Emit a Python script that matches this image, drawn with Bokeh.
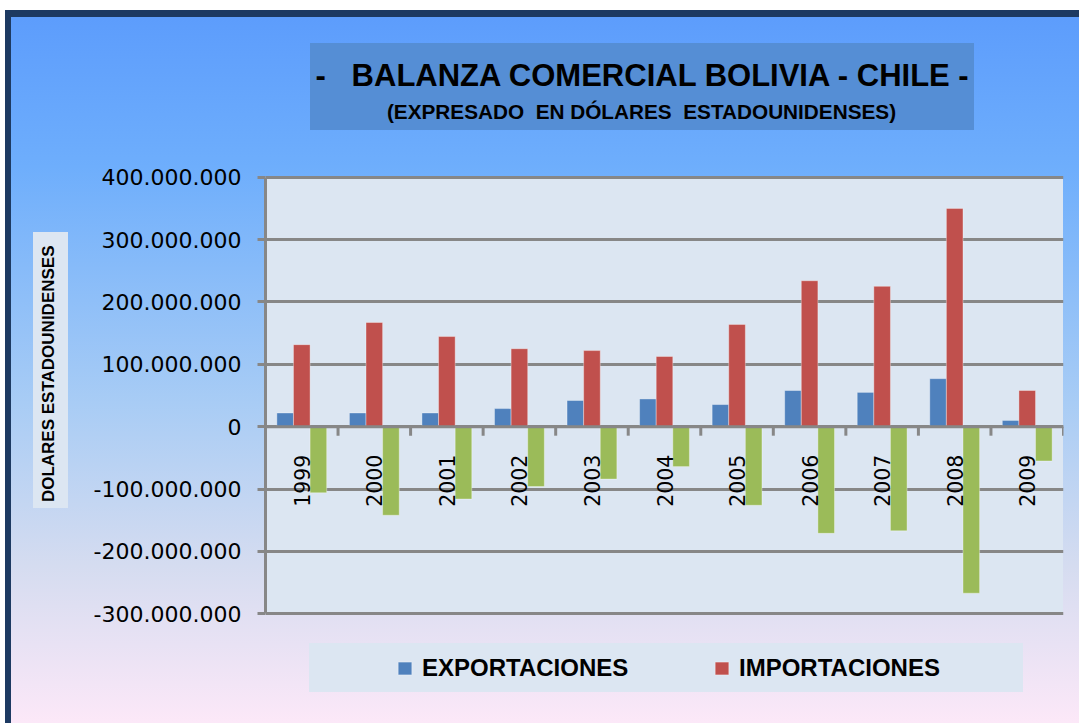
from math import pi
from bokeh.plotting import figure
from bokeh.models import (ColumnDataSource, FactorRange, FixedTicker, Span, Label,
                          Legend, LegendItem, LinearAxis)
from bokeh.transform import dodge
from bokeh.core.properties import value
from bokeh.embed import file_html
from bokeh.resources import INLINE

# ---------------- data ----------------
years = ["1999", "2000", "2001", "2002", "2003", "2004", "2005", "2006", "2007", "2008", "2009"]
exportaciones = [22e6, 22e6, 22e6, 29e6, 42e6, 44.5e6, 35.5e6, 58e6, 55e6, 77e6, 10e6]
importaciones = [131.5e6, 167e6, 144.5e6, 125e6, 122e6, 112.5e6, 164e6, 234e6, 225e6, 350e6, 58e6]
balanza = [-106e6, -142e6, -116e6, -96e6, -84e6, -64e6, -126e6, -171e6, -167e6, -267e6, -55e6]

y_ticks = [-300e6, -200e6, -100e6, 0, 100e6, 200e6, 300e6, 400e6]
y_tick_labels = ["-300.000.000", "-200.000.000", "-100.000.000", "0",
                 "100.000.000", "200.000.000", "300.000.000", "400.000.000"]

NB = "\u00a0"
title_text = "-" + NB * 2 + " BALANZA COMERCIAL BOLIVIA - CHILE -"
subtitle_text = "(EXPRESADO" + NB + " EN DÓLARES" + NB + " ESTADOUNIDENSES)"
y_title_text = "DOLARES ESTADOUNIDENSES"
legend_labels = ["EXPORTACIONES", "IMPORTACIONES"]

# ---------------- colours ----------------
C_EXP = "#4f81bd"
C_IMP = "#c0504d"
C_BAL = "#9bbb59"
C_GRID = "#878787"
C_PLOT = "#dce6f2"
C_TITLEBOX = "#558ed5"
C_FRAME = "#1d3a62"

# ---------------- layout (page pixels) ----------------
W, H = 1079, 723
FRAME_L, FRAME_R = 265, 1063
Y_TOP_PX, Y_BOT_PX = 176.7, 613.3          # where the top / bottom tick values sit
px_per_unit = (Y_BOT_PX - Y_TOP_PX) / (y_ticks[-1] - y_ticks[0])
y_end = y_ticks[-1] + Y_TOP_PX / px_per_unit
y_start = y_ticks[0] - (H - Y_BOT_PX) / px_per_unit

def box(l, t, r, b, c):
    return f"linear-gradient({c},{c}) {l}px {t}px / {r - l}px {b - t}px no-repeat"

bg_layers = [
    box(265, 177, 1063, 614, C_PLOT),           # plot area
    box(310, 43, 974, 130, C_TITLEBOX),         # title box
    box(33, 232, 68, 508, C_PLOT),              # y title box
    box(309, 643, 1023, 692, C_PLOT),           # legend box
    box(5, 10, 1079, 17, C_FRAME),              # outer frame top
    box(5, 10, 11, 723, C_FRAME),               # outer frame left
    "linear-gradient(180deg, #5c9cfc 0%, #6eaefc 22%, #a8ccf5 55%, #d5dcf0 78%, #fce8f8 100%) "
    "5px 10px / 1074px 713px no-repeat",
]

src = ColumnDataSource(dict(years=years, exp=exportaciones, imp=importaciones, bal=balanza))

p = figure(width=W, height=H, output_backend="svg", toolbar_location=None, title=None,
           x_range=FactorRange(factors=years), y_range=(y_start, y_end),
           x_axis_location=None,
           min_border_left=FRAME_L, min_border_right=W - FRAME_R, min_border_top=0,
           min_border_bottom=0)
p.styles = {"background": ", ".join(bg_layers) + " white"}
p.border_fill_alpha = 0
p.background_fill_alpha = 0
p.outline_line_color = None

# grid / axes
p.xgrid.visible = False
p.ygrid.ticker = FixedTicker(ticks=y_ticks)
p.ygrid.grid_line_color = C_GRID
p.ygrid.grid_line_width = 3
yax = p.yaxis[0]
yax.ticker = FixedTicker(ticks=y_ticks)
yax.bounds = (y_ticks[0], y_ticks[-1])
yax.major_label_overrides = {t: l for t, l in zip(y_ticks, y_tick_labels)}
yax.axis_line_color = C_GRID
yax.axis_line_width = 3
yax.major_tick_line_color = C_GRID
yax.major_tick_line_width = 3
yax.major_tick_out = 8
yax.major_tick_in = 0
yax.minor_tick_line_color = None
yax.major_label_standoff = 16
yax.major_label_text_font = "DejaVu Sans"
yax.major_label_text_font_size = "22px"
yax.major_label_text_color = "black"

# y title as label of an outer, tickless axis (trailing nbsp nudges it down)
yax2 = LinearAxis(ticker=FixedTicker(ticks=[]),
                  axis_label=y_title_text + NB * 5, axis_line_color=None,
                  major_tick_line_color=None, major_tick_out=0, major_tick_in=0,
                  minor_tick_line_color=None, major_label_text_font_size="0px",
                  major_label_standoff=0, axis_label_standoff=33,
                  axis_label_text_font="Liberation Sans", axis_label_text_font_style="bold",
                  axis_label_text_font_size="17px", axis_label_text_color="black")
p.add_layout(yax2, "left")

# bars
bw = 0.229
r_exp = p.vbar(x=dodge("years", -bw, range=p.x_range), top="exp", bottom=0, width=bw,
               source=src, fill_color=C_EXP, line_color="white", line_alpha=0.35)
r_imp = p.vbar(x=dodge("years", 0, range=p.x_range), top="imp", bottom=0, width=bw,
               source=src, fill_color=C_IMP, line_color="white", line_alpha=0.35)
r_bal = p.vbar(x=dodge("years", bw, range=p.x_range), top=0, bottom="bal", width=bw,
               source=src, fill_color=C_BAL, line_color="white", line_alpha=0.35)

# zero axis line + category boundary ticks
p.add_layout(Span(location=0, dimension="width", line_color=C_GRID, line_width=3))
tick_len = 9 / px_per_unit
p.segment(x0=dodge("years", 0.5, range=p.x_range), x1=dodge("years", 0.5, range=p.x_range),
          y0=0, y1=-tick_len, source=src, line_color=C_GRID, line_width=3)

# category labels
p.text(x="years", y=0, text="years", source=src, angle=pi / 2, text_align="right",
       text_baseline="middle", y_offset=28, text_font=value("DejaVu Sans"),
       text_font_size=value("20.5px"), text_color="black")

# frame-relative screen coords
def sx(px):
    return px - FRAME_L
def sy(py):
    return H - py

p.add_layout(Label(x=sx(643), y=sy(74.5), x_units="screen", y_units="screen", text=title_text,
                   text_align="center", text_baseline="middle", text_font="Liberation Sans",
                   text_font_style="bold", text_font_size="31px", text_color="black"))
p.add_layout(Label(x=sx(641), y=sy(111), x_units="screen", y_units="screen", text=subtitle_text,
                   text_align="center", text_baseline="middle", text_font="Liberation Sans",
                   text_font_style="bold", text_font_size="20.75px", text_color="black"))

legend = Legend(items=[LegendItem(label=legend_labels[0], renderers=[r_exp]),
                       LegendItem(label=legend_labels[1], renderers=[r_imp])],
                location=(sx(396), sy(682)), orientation="horizontal",
                background_fill_alpha=0, border_line_alpha=0, padding=0, margin=0,
                spacing=79, label_width=212, glyph_width=17, glyph_height=16,
                label_standoff=9, label_text_font="Liberation Sans",
                label_text_font_style="bold", label_text_font_size="24px",
                label_text_color="black")
p.add_layout(legend)

open("out.html", "w").write(file_html(p, INLINE))
